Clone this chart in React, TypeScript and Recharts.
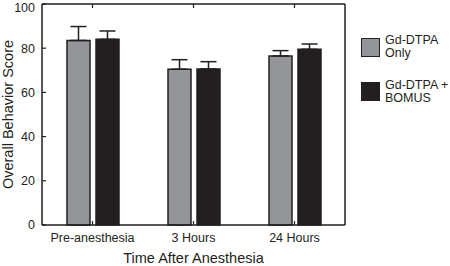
import {
  Bar,
  BarChart,
  ErrorBar,
  Legend,
  XAxis,
  YAxis,
} from "recharts";

const categories = ["Pre-anesthesia", "3 Hours", "24 Hours"];
const gdOnly = [83.5, 70.5, 76.5];
const gdOnlyErr = [6.3, 4.3, 2.4];
const gdBomus = [84, 70.6, 79.5];
const gdBomusErr = [3.8, 3.3, 2.4];
const yTicks = [0, 20, 40, 60, 80, 100];
const seriesNames = ["Gd-DTPA Only", "Gd-DTPA + BOMUS"];
const legendLines = [
  ["Gd-DTPA", "Only"],
  ["Gd-DTPA +", "BOMUS"],
];

const INK = "#231f20";
const GRAY = "#939598";

const data = categories.map((name, i) => ({
  name,
  only: gdOnly[i],
  onlyErr: [0, gdOnlyErr[i]],
  bomus: gdBomus[i],
  bomusErr: [0, gdBomusErr[i]],
}));

const fills = [GRAY, INK];

function renderLegend() {
  return (
    <div style={{ display: "flex", flexDirection: "column", gap: 18.5 }}>
      {legendLines.map((lines, i) => (
        <div key={i} style={{ display: "flex", alignItems: "center" }}>
          <div
            style={{
              width: 19,
              height: 19,
              boxSizing: "border-box",
              border: `1.5px solid ${INK}`,
              background: fills[i],
              marginRight: 5,
            }}
          />
          <div style={{ fontSize: 12.5, lineHeight: "13px", color: INK }}>
            {lines.map((l) => (
              <div key={l}>{l}</div>
            ))}
          </div>
        </div>
      ))}
    </div>
  );
}

const noTick = () => <g />;

export default function App() {
  return (
    <div style={{ width: 450, height: 266, fontFamily: "'Liberation Sans', Arial, sans-serif" }}>
      <style>{"body{margin:0;background:#fff}"}</style>
      <BarChart
        width={450}
        height={266}
        data={data}
        margin={{ top: 3, right: 104, bottom: 0, left: 0 }}
        barSize={23}
        barGap={6}
      >
        <XAxis
          dataKey="name"
          height={41}
          axisLine={{ stroke: INK, strokeWidth: 1.5 }}
          tickLine={{ stroke: INK, strokeWidth: 1.2 }}
          tickSize={-4}
          tickMargin={12}
          tick={{ fontSize: 12.5, fill: INK }}
          interval={0}
          label={{
            value: "Time After Anesthesia",
            position: "insideBottom",
            offset: 3,
            style: { fontSize: 14.5, fill: INK },
          }}
        />
        <XAxis
          xAxisId="top"
          dataKey="name"
          orientation="top"
          height={1}
          axisLine={{ stroke: INK, strokeWidth: 1.5 }}
          tickLine={{ stroke: INK, strokeWidth: 1.2 }}
          tickSize={-4}
          tick={noTick}
          interval={0}
        />
        <YAxis
          width={42}
          domain={[0, 100]}
          ticks={yTicks}
          axisLine={{ stroke: INK, strokeWidth: 1.5 }}
          tickLine={{ stroke: INK, strokeWidth: 1.2 }}
          tickSize={-4}
          tickMargin={11}
          tick={{ fontSize: 12.5, fill: INK }}
          label={{
            value: "Overall Behavior Score",
            angle: -90,
            position: "insideLeft",
            offset: 8,
            style: { fontSize: 14.5, fill: INK, textAnchor: "middle" },
          }}
        />
        <YAxis
          yAxisId="right"
          orientation="right"
          width={1}
          domain={[0, 100]}
          ticks={yTicks}
          axisLine={{ stroke: INK, strokeWidth: 1.5 }}
          tickLine={{ stroke: INK, strokeWidth: 1.2 }}
          tickSize={-4}
          tick={noTick}
        />
        <Legend
          layout="vertical"
          align="center"
          verticalAlign="middle"
          wrapperStyle={{ left: 361, top: 34, width: 89 }}
          content={renderLegend}
        />
        <Bar
          dataKey="only"
          name={seriesNames[0]}
          fill={GRAY}
          stroke={INK}
          strokeWidth={1.5}
          isAnimationActive={false}
        >
          <ErrorBar dataKey="onlyErr" width={8} stroke={INK} strokeWidth={1.5} />
        </Bar>
        <Bar
          dataKey="bomus"
          name={seriesNames[1]}
          fill={INK}
          stroke={INK}
          strokeWidth={1.5}
          isAnimationActive={false}
        >
          <ErrorBar dataKey="bomusErr" width={8} stroke={INK} strokeWidth={1.5} />
        </Bar>
      </BarChart>
    </div>
  );
}
